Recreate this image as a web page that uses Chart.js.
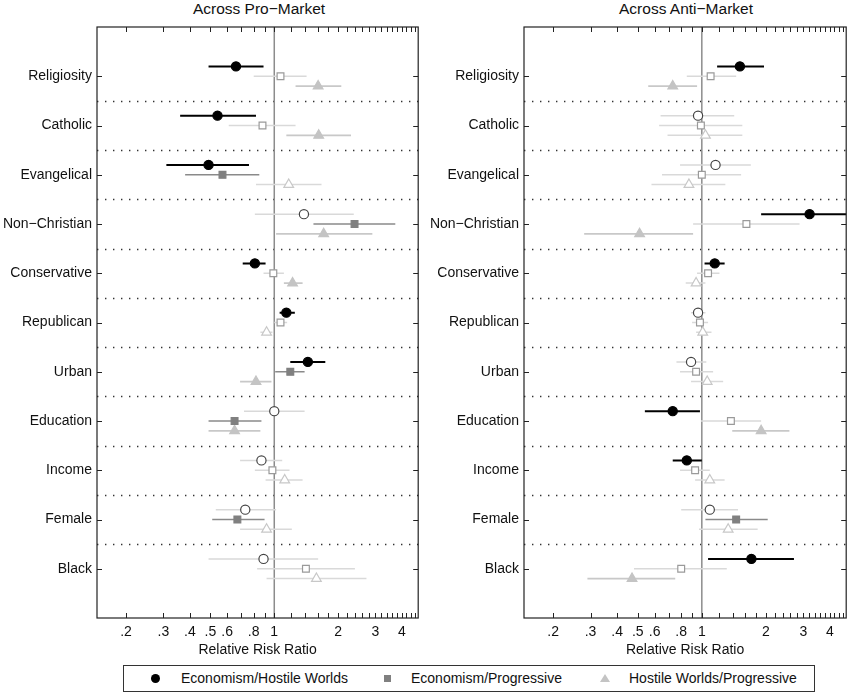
<!DOCTYPE html>
<html>
<head>
<meta charset="utf-8">
<script src="https://cdn.jsdelivr.net/npm/chart.js@4.4.1/dist/chart.umd.min.js"></script>
<style>
  body { margin: 0; background: #fff; font-family: "Liberation Sans", Arial, sans-serif; }
  #wrap { position: relative; width: 853px; height: 696px; overflow: hidden; }
  canvas { position: absolute; top: 0; }
  .title { position: absolute; top: 0px; font-size: 15.5px; color: #111; transform: translateX(-50%); white-space: nowrap; }
  #legend { position: absolute; left: 123px; top: 665px; width: 692px; height: 27px; border: 1px solid #333; box-sizing: border-box; font-size: 14px; color: #111; }
  .item { position: absolute; top: 4px; white-space: nowrap; }
  .mk { position: absolute; }
</style>
</head>
<body>
<div id="wrap">
  <div class="title" style="left:259px">Across Pro−Market</div>
  <div class="title" style="left:686px">Across Anti−Market</div>
  <canvas id="proChart" width="425" height="662" style="left:0"></canvas>
  <canvas id="antiChart" width="426" height="662" style="left:427px"></canvas>
  <div id="legend">
    <div class="mk" style="left:27px;top:8px;width:9px;height:9px;border-radius:50%;background:#000"></div>
    <div class="item" style="left:57px">Economism/Hostile Worlds</div>
    <div class="mk" style="left:260px;top:9px;width:7px;height:7px;background:#808080"></div>
    <div class="item" style="left:287px">Economism/Progressive</div>
    <div class="mk" style="left:476px;top:8px;width:0;height:0;border-left:5px solid transparent;border-right:5px solid transparent;border-bottom:8px solid #c4c4c4"></div>
    <div class="item" style="left:505px">Hostile Worlds/Progressive</div>
  </div>
</div>
<script>
Chart.defaults.font.family = '"Liberation Sans", Arial, sans-serif'
Chart.defaults.font.size = 14
Chart.defaults.color = '#111'

const categories = ['Religiosity', 'Catholic', 'Evangelical', 'Non−Christian', 'Conservative',
    'Republican', 'Urban', 'Education', 'Income', 'Female', 'Black']

const xTickVals = [0.2, 0.3, 0.4, 0.5, 0.6, 0.7, 0.8, 0.9, 1, 1.2, 1.4, 1.6, 1.8, 2, 2.2, 2.4, 2.6, 2.8,
    3, 3.2, 3.4, 3.6, 3.8, 4, 4.2, 4.4, 4.6]
const xLabelVals = [0.2, 0.3, 0.4, 0.5, 0.6, 0.8, 1, 2, 3, 4]
const xLabelText = ['.2', '.3', '.4', '.5', '.6', '.8', '1', '2', '3', '4']

// Across Pro-Market
const proEH = [0.66, 0.54, 0.49, 1.38, 0.81, 1.14, 1.44, 1.00, 0.87, 0.73, 0.89]
const proEHLo = [0.49, 0.36, 0.31, 0.81, 0.71, 1.06, 1.19, 0.72, 0.69, 0.53, 0.49]
const proEHHi = [0.89, 0.82, 0.76, 2.37, 0.91, 1.25, 1.74, 1.39, 1.09, 1.02, 1.61]
const proEHSig = [1, 1, 1, 0, 1, 1, 1, 0, 0, 0, 0]

const proEP = [1.07, 0.88, 0.57, 2.39, 0.99, 1.07, 1.19, 0.65, 0.98, 0.67, 1.41]
const proEPLo = [0.80, 0.61, 0.38, 1.53, 0.89, 1.00, 1.01, 0.49, 0.81, 0.51, 0.83]
const proEPHi = [1.42, 1.26, 0.85, 3.72, 1.11, 1.15, 1.39, 0.87, 1.18, 0.90, 2.40]
const proEPSig = [0, 0, 1, 1, 0, 0, 1, 1, 0, 1, 0]

const proHP = [1.61, 1.62, 1.17, 1.71, 1.22, 0.92, 0.82, 0.65, 1.12, 0.92, 1.58]
const proHPLo = [1.26, 1.14, 0.82, 1.02, 1.11, 0.86, 0.69, 0.49, 0.91, 0.69, 0.92]
const proHPHi = [2.07, 2.30, 1.67, 2.90, 1.36, 0.98, 0.97, 0.86, 1.36, 1.21, 2.72]
const proHPSig = [1, 1, 0, 1, 1, 0, 1, 1, 0, 0, 0]

// Across Anti-Market
const antiEH = [1.51, 0.96, 1.16, 3.21, 1.15, 0.96, 0.89, 0.73, 0.85, 1.09, 1.71]
const antiEHLo = [1.18, 0.64, 0.79, 1.90, 1.03, 0.89, 0.76, 0.54, 0.73, 0.80, 1.07]
const antiEHHi = [1.96, 1.42, 1.70, 5.60, 1.28, 1.04, 1.05, 0.98, 1.00, 1.48, 2.71]
const antiEHSig = [1, 0, 0, 1, 1, 0, 0, 1, 1, 0, 1]

const antiEP = [1.10, 0.99, 1.00, 1.62, 1.07, 0.98, 0.94, 1.37, 0.93, 1.45, 0.80]
const antiEPLo = [0.85, 0.63, 0.65, 0.91, 0.95, 0.90, 0.79, 0.99, 0.79, 1.04, 0.48]
const antiEPHi = [1.45, 1.55, 1.53, 2.88, 1.21, 1.07, 1.13, 1.90, 1.09, 2.04, 1.31]
const antiEPSig = [0, 0, 0, 0, 0, 0, 0, 0, 0, 1, 0]

const antiHP = [0.73, 1.04, 0.87, 0.51, 0.94, 1.01, 1.06, 1.90, 1.09, 1.33, 0.47]
const antiHPLo = [0.56, 0.69, 0.58, 0.28, 0.84, 0.94, 0.89, 1.39, 0.93, 0.97, 0.29]
const antiHPHi = [0.95, 1.55, 1.29, 0.91, 1.04, 1.11, 1.26, 2.58, 1.28, 1.83, 0.75]
const antiHPSig = [1, 0, 0, 1, 0, 0, 0, 1, 0, 0, 1]

const hollowBar = '#d9d9d9'

const styles = [
    { label: 'Economism/Hostile Worlds', shift: -0.2, shape: 'circle', r: 4.6, fill: '#000', edge: '#444', bar: '#000', barW: 2 },
    { label: 'Economism/Progressive', shift: 0, shape: 'rect', r: 4.8, fill: '#808080', edge: '#9a9a9a', bar: '#8a8a8a', barW: 1.6 },
    { label: 'Hostile Worlds/Progressive', shift: 0.2, shape: 'triangle', r: 5.6, fill: '#c4c4c4', edge: '#c8c8c8', bar: '#c8c8c8', barW: 1.6 },
]

function makeSet(style, est, lo, hi, sig) {
    return {
        label: style.label,
        data: est.map((v, i) => ({ x: v, y: i + 1 + style.shift, lo: lo[i], hi: hi[i], sig: sig[i] })),
        pointStyle: style.shape,
        pointRadius: style.r,
        pointBorderWidth: 1.2,
        pointBackgroundColor: c => c.raw && c.raw.sig ? style.fill : '#fff',
        pointBorderColor: c => c.raw && c.raw.sig ? style.fill : style.edge,
        barColor: style.bar,
        barW: style.barW,
        showLine: false,
    }
}

function line(ctx, x1, y1, x2, y2) {
    ctx.beginPath()
    ctx.moveTo(x1, y1)
    ctx.lineTo(x2, y2)
    ctx.stroke()
}

const framePlugin = {
    id: 'frame',
    beforeDatasetsDraw(chart) {
        const { ctx, chartArea: a, scales: { x, y } } = chart
        ctx.save()
        // dotted separators between categories
        ctx.strokeStyle = '#333'
        ctx.lineWidth = 1.4
        ctx.setLineDash([1.4, 6.6])
        for (let i = 1; i < categories.length; i++) {
            const py = Math.round(y.getPixelForValue(i + 0.5)) + 0.5
            line(ctx, a.left, py, a.right, py)
        }
        ctx.setLineDash([])
        // reference line at 1
        ctx.strokeStyle = '#8c8c8c'
        ctx.lineWidth = 1.5
        const px1 = x.getPixelForValue(1)
        line(ctx, px1, a.top, px1, a.bottom)
        // confidence intervals
        ctx.beginPath()
        ctx.rect(a.left, a.top, a.width, a.height)
        ctx.clip()
        chart.data.datasets.forEach(ds => {
            ds.data.forEach(p => {
                ctx.strokeStyle = p.sig ? ds.barColor : hollowBar
                ctx.lineWidth = p.sig ? ds.barW : 1.5
                const py = y.getPixelForValue(p.y)
                line(ctx, x.getPixelForValue(p.lo), py, x.getPixelForValue(p.hi), py)
            })
        })
        ctx.restore()
    },
    afterDraw(chart) {
        const { ctx, chartArea: a, scales: { x, y } } = chart
        ctx.save()
        ctx.strokeStyle = '#222'
        ctx.lineWidth = 1.2
        ctx.strokeRect(a.left, a.top, a.width, a.height)
        ctx.lineWidth = 1
        x.ticks.forEach(t => {
            const px = Math.round(x.getPixelForValue(t.value)) + 0.5
            line(ctx, px, a.bottom, px, a.bottom - 5)
            line(ctx, px, a.top, px, a.top + 5)
        })
        y.ticks.forEach(t => {
            const py = Math.round(y.getPixelForValue(t.value)) + 0.5
            line(ctx, a.left, py, a.left + 5, py)
            line(ctx, a.right, py, a.right - 5, py)
        })
        ctx.restore()
    }
}

function makeChart(id, sets, padRight) {
    return new Chart(document.getElementById(id), {
        type: 'scatter',
        data: { datasets: sets },
        options: {
            responsive: false,
            animation: false,
            events: [],
            layout: { padding: { top: 27, right: padRight, left: 0, bottom: 0 } },
            plugins: { legend: { display: false }, tooltip: { enabled: false } },
            scales: {
                x: {
                    type: 'logarithmic',
                    min: 0.146,
                    max: 4.77,
                    afterBuildTicks: s => { s.ticks = xTickVals.map(v => ({ value: v })) },
                    afterFit: s => { s.height = 44 },
                    grid: { display: false, drawTicks: false },
                    border: { display: false },
                    ticks: {
                        autoSkip: false,
                        maxRotation: 0,
                        padding: 6,
                        color: '#111',
                        callback: v => {
                            const k = xLabelVals.findIndex(u => Math.abs(u - v) < 1e-9)
                            return k >= 0 ? xLabelText[k] : ''
                        }
                    },
                    title: { display: true, text: 'Relative Risk Ratio', padding: { top: 0, bottom: 3 }, color: '#111' }
                },
                y: {
                    type: 'linear',
                    reverse: true,
                    min: 0,
                    max: 12,
                    afterBuildTicks: s => { s.ticks = categories.map((c, i) => ({ value: i + 1 })) },
                    afterFit: s => { s.width = 97 },
                    grid: { display: false, drawTicks: false },
                    border: { display: false },
                    ticks: { padding: 5, color: '#111', callback: v => categories[v - 1] }
                }
            }
        },
        plugins: [framePlugin]
    })
}

makeChart('proChart', [
    makeSet(styles[0], proEH, proEHLo, proEHHi, proEHSig),
    makeSet(styles[1], proEP, proEPLo, proEPHi, proEPSig),
    makeSet(styles[2], proHP, proHPLo, proHPHi, proHPSig),
], 5)

makeChart('antiChart', [
    makeSet(styles[0], antiEH, antiEHLo, antiEHHi, antiEHSig),
    makeSet(styles[1], antiEP, antiEPLo, antiEPHi, antiEPSig),
    makeSet(styles[2], antiHP, antiHPLo, antiHPHi, antiHPSig),
], 5)
</script>
</body>
</html>
